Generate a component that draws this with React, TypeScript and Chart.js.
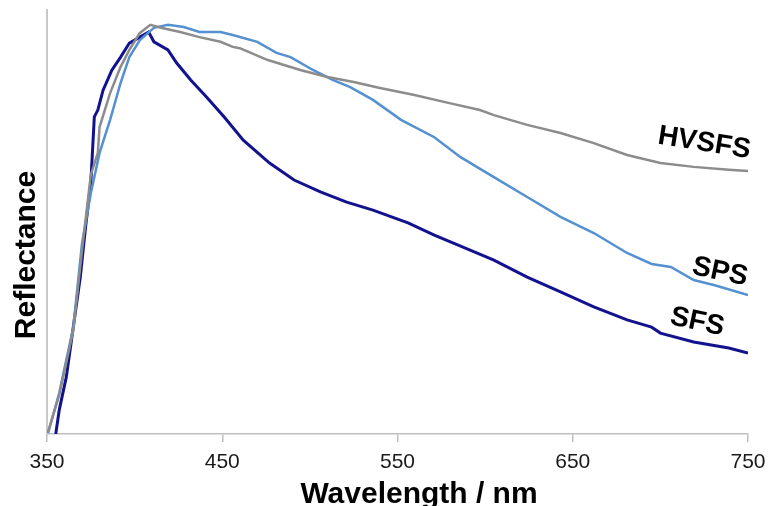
import React, { useEffect, useRef } from "react";
import { Chart, registerables } from "chart.js";

Chart.register(...registerables);

// Wavelength (nm) and reflectance (arbitrary units, 0-100)
const wavelengthsSFS = [355, 357, 361, 365, 369, 372, 375, 377, 379, 382, 387, 392, 397, 403, 408, 411, 419, 424, 432, 441, 451, 462, 477, 491, 506, 521, 536, 556, 571, 586, 605, 624, 643, 662, 681, 695, 700, 719, 739, 750];
const reflectanceSFS = [0, 5.7, 13.4, 25.2, 37, 48.8, 59.2, 74.8, 76.4, 81.1, 85.8, 88.9, 92.2, 93.6, 94.8, 92.5, 90.6, 87.5, 83.5, 79.5, 74.8, 69.3, 63.9, 59.9, 57.1, 54.7, 52.8, 49.8, 46.9, 44.3, 41, 37, 33.5, 30, 26.9, 25.2, 23.8, 21.7, 20.3, 19.1];

const wavelengthsSPS = [350.6, 357, 365, 370, 375, 380, 386, 392, 397, 403, 411, 419, 428, 437, 449, 456, 470, 481, 489, 502, 513, 523, 536, 552, 571, 586, 605, 624, 643, 662, 681, 695, 706, 719, 731, 750];
const reflectanceSPS = [0.2, 9.7, 25.2, 45, 56.8, 66.3, 74.1, 82.8, 88.9, 92.9, 95.8, 96.5, 96, 94.8, 94.8, 94.1, 92.5, 89.9, 88.9, 85.8, 83.5, 81.8, 78.8, 74.1, 70, 65.3, 60.6, 55.9, 51.2, 47.4, 42.7, 40.1, 39.4, 36.3, 35.1, 32.8];

const wavelengthsHVSFS = [350.6, 357, 365, 370, 375, 379, 380, 386, 392, 397, 403, 409, 415, 426, 437, 449, 456, 460, 476, 495, 510, 525, 540, 559, 579, 597, 605, 624, 643, 662, 681, 700, 719, 739, 750];
const reflectanceHVSFS = [0.5, 9.2, 24.5, 43.4, 61.1, 66.3, 72.4, 80.4, 86.6, 90.6, 94.6, 96.5, 95.8, 94.8, 93.6, 92.5, 91.3, 91, 88.2, 85.8, 84.2, 83, 81.6, 80, 78.1, 76.4, 75.2, 72.9, 71, 68.6, 65.8, 63.9, 63, 62.3, 62];

const xTicks = [350, 450, 550, 650, 750];

const seriesNames = ["HVSFS", "SPS", "SFS"];
const labelWavelength = [725, 734, 721];
const labelReflectance = [68.6, 38.2, 26.4];
const labelAngle = [9, 12, 12];

const FONT = "'Liberation Sans', Arial, sans-serif";

export default function App() {
  const ref = useRef<HTMLCanvasElement>(null);

  useEffect(() => {
    if (!ref.current) return;
    const toPts = (xs: number[], ys: number[]) => xs.map((x, i) => ({ x, y: ys[i] }));

    const labelPlugin = {
      id: "labels",
      afterDatasetsDraw(chart: any) {
        const { ctx, scales } = chart;
        ctx.save();
        ctx.fillStyle = "#000";
        ctx.font = `bold 28px ${FONT}`;
        ctx.textAlign = "center";
        ctx.textBaseline = "middle";
        seriesNames.forEach((name, i) => {
          const px = scales.x.getPixelForValue(labelWavelength[i]);
          const py = scales.y.getPixelForValue(labelReflectance[i]);
          ctx.save();
          ctx.translate(px, py);
          ctx.rotate((labelAngle[i] * Math.PI) / 180);
          ctx.fillText(name, 0, 0);
          ctx.restore();
        });
        // axis titles
        ctx.font = `bold 30px ${FONT}`;
        ctx.textBaseline = "alphabetic";
        ctx.fillText("Wavelength / nm", 419, 503);
        ctx.save();
        ctx.translate(35, 255);
        ctx.rotate(-Math.PI / 2);
        ctx.fillText("Reflectance", 0, 0);
        ctx.restore();
        ctx.restore();
      },
    };

    const chart = new Chart(ref.current, {
      type: "line",
      data: {
        datasets: [
          {
            label: "HVSFS",
            data: toPts(wavelengthsHVSFS, reflectanceHVSFS),
            borderColor: "#8c8c8c",
            borderWidth: 2.5,
            pointRadius: 0,
          },
          {
            label: "SPS",
            data: toPts(wavelengthsSPS, reflectanceSPS),
            borderColor: "#5590d0",
            borderWidth: 2.5,
            pointRadius: 0,
          },
          {
            label: "SFS",
            data: toPts(wavelengthsSFS, reflectanceSFS),
            borderColor: "#12128e",
            borderWidth: 3,
            pointRadius: 0,
          },
        ],
      },
      options: {
        animation: false,
        responsive: false,
        devicePixelRatio: 1,
        layout: { padding: { left: 47, right: 21, top: 10, bottom: 0 } },
        plugins: { legend: { display: false }, tooltip: { enabled: false } },
        scales: {
          x: {
            type: "linear",
            min: 350,
            max: 750,
            afterBuildTicks: (s: any) => {
              s.ticks = xTicks.map((v) => ({ value: v }));
            },
            afterFit: (s: any) => {
              s.height = 72;
              s.paddingLeft = 0;
              s.paddingRight = 0;
            },
            ticks: {
              color: "#1a1a1a",
              font: { family: FONT, size: 21 },
              padding: 8,
              maxRotation: 0,
            },
            grid: {
              display: true,
              drawOnChartArea: false,
              drawTicks: true,
              tickLength: 8,
              color: "#bfbfbf",
              lineWidth: 1.5,
            },
            border: { display: true, color: "#bfbfbf", width: 1.5 },
          },
          y: {
            type: "linear",
            min: 0,
            max: 100,
            afterFit: (s: any) => {
              s.width = 0;
            },
            ticks: { display: false },
            grid: { display: false, drawTicks: false },
            border: { display: true, color: "#c8c8c8", width: 2 },
          },
        },
      },
      plugins: [labelPlugin],
    } as any);

    return () => chart.destroy();
  }, []);

  return (
    <div style={{ position: "fixed", left: 0, top: 0, width: 769, height: 506, background: "#fff" }}>
      <canvas ref={ref} width={769} height={506} />
    </div>
  );
}
